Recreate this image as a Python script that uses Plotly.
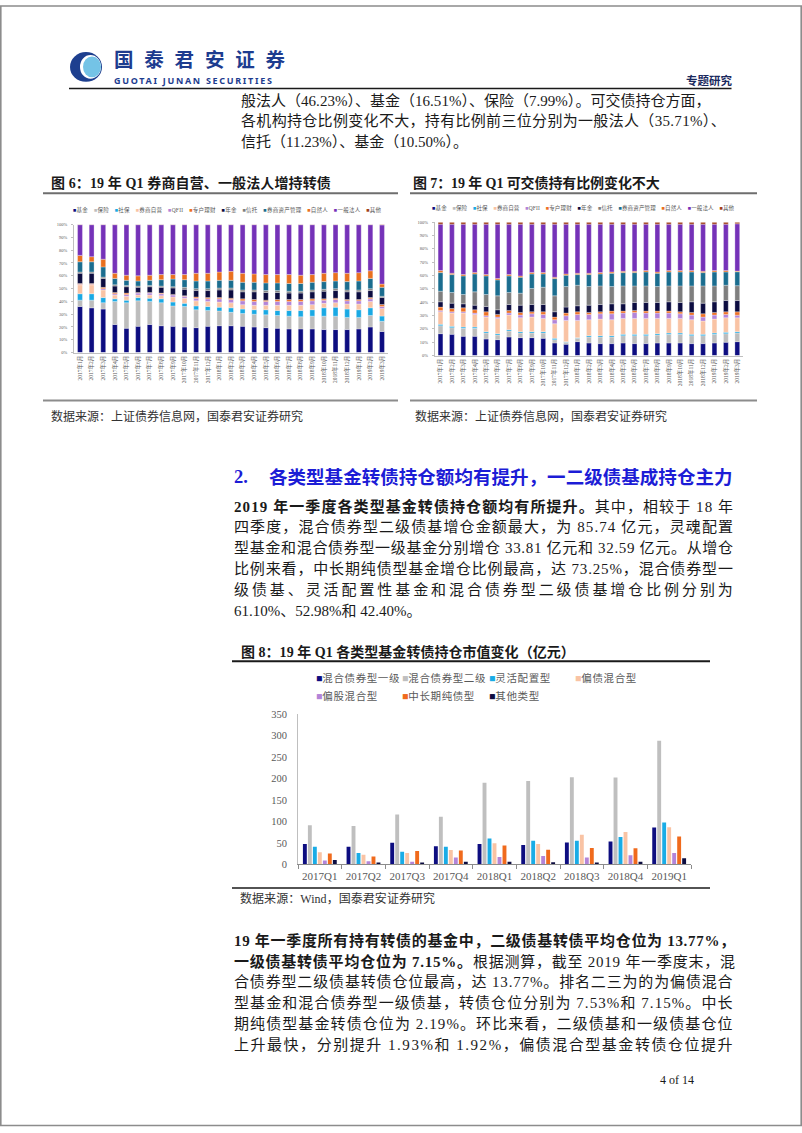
import re
import numpy as np
import plotly.graph_objects as go

W, H = 802, 1133
def px(x): return x / W
def py(y): return 1 - y / H

FONT = "Liberation Serif, Noto Sans CJK SC"
SANS = "Noto Sans CJK SC"
GRAY_TXT = "#595959"

# ---------------- data ----------------
months = ["2017年1月", "2017年2月", "2017年3月", "2017年4月", "2017年5月", "2017年6月",
          "2017年7月", "2017年8月", "2017年9月", "2017年10月", "2017年11月", "2017年12月",
          "2018年1月", "2018年2月", "2018年3月", "2018年4月", "2018年5月", "2018年6月",
          "2018年7月", "2018年8月", "2018年9月", "2018年10月", "2018年11月", "2018年12月",
          "2019年1月", "2019年2月", "2019年3月"]
holder_names = ["基金", "保险", "社保", "券商自营", "QFII", "专户理财", "年金", "信托",
                "券商资产管理", "自然人", "一般法人", "其他"]
holder_colors = ["#0d0d80", "#bdbdbd", "#19a9e4", "#f9c3a4", "#b384d8", "#ee7124",
                 "#0c0c40", "#7f7f7f", "#1b6d8f", "#e9701f", "#7532b8", "#a0401a"]
pct_ticks = [0, 10, 20, 30, 40, 50, 60, 70, 80, 90, 100]

# Figure 6: convertible bond holder shares (%)
cb_fund = [36, 35, 34, 22, 19, 20.5, 22, 21, 20.5, 20, 19.5, 20.5, 21, 21, 20.5, 20, 19.5, 19, 18.5, 18.5, 18.5, 18, 18, 18, 18.5, 20, 16.51]
cb_insur = [5, 6, 5, 18, 20, 20, 18, 18, 16, 16, 14, 12.5, 11.5, 10.5, 10, 10, 10, 10, 10, 9.5, 10, 10.5, 10.5, 9.5, 9, 9, 7.99]
cb_ssf = [5, 5, 4, 2, 2, 2.5, 2.5, 3, 3, 2.5, 3, 3, 3, 3.5, 3.5, 3.5, 4, 4, 4.5, 5, 5, 6.5, 7, 6.5, 6, 6, 4]
cb_broker = [7, 7, 6, 3, 3, 2, 2.5, 2.5, 4, 4, 4, 4, 4, 4, 3.5, 3.5, 3.5, 4, 4, 4, 4, 3.5, 3.5, 4, 4.5, 5, 6]
cb_qfii = [0.5, 0.5, 1, 1, 1.5, 1.5, 1.5, 1.5, 1.5, 1.5, 2, 2, 2.5, 2.5, 3, 3, 3, 3, 3, 3, 3, 2.5, 2.5, 2.5, 2.5, 2, 1.5]
cb_special = [0.5, 0.5, 1, 1, 1, 0.5, 0.5, 0.5, 0.5, 0.5, 1, 1, 1, 1, 1.5, 1.5, 1, 1.5, 1.5, 1.5, 1.5, 1, 1, 1, 1, 1, 1.5]
cb_pension = [8, 8, 7, 5, 5, 4, 4.5, 4.5, 5, 5, 5, 5.5, 6, 6.5, 5.5, 6, 6, 5.5, 5, 5, 5.5, 6, 6, 6, 6, 5.5, 5.5]
cb_trust = [1, 1, 1, 1, 1, 1, 1, 1, 1, 1.5, 1.5, 1.5, 1.5, 1.5, 1.5, 1.5, 1.5, 1.5, 1.5, 1.5, 1.5, 1.5, 1.5, 1.5, 1.5, 1.5, 1]
cb_broker_am = [8, 8, 8, 5, 4, 4, 4, 5, 6, 6, 6, 6, 6, 6, 6, 6, 6, 6, 6, 6, 6, 6, 6, 6.5, 7, 8, 7]
cb_individual = [5, 4, 6, 4, 4, 4, 4, 4, 3.5, 4, 6, 6, 6.5, 7, 7, 6.5, 6.5, 6.5, 7, 6.5, 6, 6.5, 6.5, 6.5, 6.5, 6, 2.5]
cb_corp = [24, 25, 27, 38, 39.5, 40, 39.5, 39, 39, 39, 38, 38, 37, 36.5, 38, 38.5, 39, 39, 39, 39.5, 39, 38, 37.5, 38, 37.5, 36, 46.23]
cb_other = [0.1, 0.1, 0.1, 0.1, 0.1, 0.1, 0.1, 0.1, 0.1, 0.1, 0.1, 0.1, 0.1, 0.1, 0.1, 0.1, 0.1, 0.1, 0.1, 0.1, 0.1, 0.1, 0.1, 0.1, 0.1, 0.1, 0.3]

# Figure 7: exchangeable bond holder shares (%)
eb_fund = [16.5, 16, 14.5, 14.5, 12.5, 12, 14, 13.5, 13.5, 13, 9.5, 8.5, 10.5, 9.5, 9, 9, 9.5, 9, 9, 9.5, 9.5, 9.5, 9, 9, 9.5, 10, 10.5]
eb_insur = [6, 5, 6, 6, 4.5, 3.5, 4.5, 3.5, 3.5, 4, 2.5, 1.5, 2.5, 4.5, 5, 5, 5.5, 6, 6, 6, 6.5, 6.5, 6, 6, 6.5, 6.5, 6.5]
eb_ssf = [1, 1, 1, 1, 1, 1, 1, 1, 1, 1, 1, 0.5, 0.5, 1, 1, 1, 1, 1, 1, 1, 1, 1, 1, 1, 1, 1, 1]
eb_broker = [9.5, 10, 10.5, 9.5, 11, 11.5, 11, 10.5, 11, 10, 11, 16, 13, 12, 12.5, 12, 12, 12, 12, 11.5, 11, 11, 11, 10, 10.5, 11, 10.5]
eb_qfii = [1, 1, 1, 1, 1, 1, 1.5, 2, 2.5, 3, 3, 3.5, 4.5, 4, 4, 4.5, 4, 4.5, 4, 4, 4, 3.5, 3.5, 3, 3, 2.5, 2]
eb_special = [2.5, 2.5, 3, 2.5, 3, 2, 2, 2, 1.5, 2, 2, 2, 2, 1.5, 1.5, 2, 1.5, 1.5, 1.5, 1.5, 1.5, 1.5, 2, 2.5, 2, 2, 2.5]
eb_pension = [4, 4, 3, 3.5, 4, 3.5, 4.5, 5.5, 5.5, 5.5, 4, 4.5, 4.5, 5.5, 5.5, 5.5, 5.5, 6, 6.5, 6.5, 7, 7, 8, 8, 8, 8.5, 8.5]
eb_trust = [8, 8, 7, 10, 9, 10.5, 9, 9, 12, 13, 12, 15.5, 15.5, 14, 14, 13, 13.5, 12.5, 12.5, 12, 12, 12.5, 12, 13, 12, 11.5, 11.23]
eb_broker_am = [14, 13.5, 14, 13.5, 14, 12, 12.5, 12, 11, 10, 13, 8.5, 8, 9, 9, 10, 10, 10, 10.5, 10, 10.5, 10.5, 10.5, 10, 10.5, 10, 10.5]
eb_individual = [1.5, 1, 1, 1, 1, 1, 1, 1, 1, 1, 1, 1, 1, 1, 1, 1, 1, 1, 1, 1, 1, 1, 1, 1, 1, 1, 0.5]
eb_corp = [35, 37, 38, 36.5, 38, 41, 38, 39, 36.5, 36.5, 40, 37.5, 37, 37, 36.5, 36, 35.5, 35.5, 35, 36, 35, 35, 35, 35.5, 35, 35, 35.71]
eb_other = [1.5, 1.5, 1.5, 1.5, 1.5, 1.5, 1.5, 1.5, 1.5, 1.5, 1.5, 1.5, 1.5, 1.5, 1.5, 1.5, 1.5, 1.5, 1.5, 1.5, 1.5, 1.5, 1.5, 1.5, 1.5, 1.5, 1.2]

# Figure 8: fund convertible holdings (亿元)
quarters = ["2017Q1", "2017Q2", "2017Q3", "2017Q4", "2018Q1", "2018Q2", "2018Q3", "2018Q4", "2019Q1"]
fund_names = ["混合债券型一级", "混合债券型二级", "灵活配置型", "偏债混合型", "偏股混合型", "中长期纯债型", "其他类型"]
fund_colors = ["#0d0d80", "#bfbfbf", "#19ace6", "#f9c3a4", "#b384d8", "#f06a1c", "#0c0c40"]
f_bond1 = [47, 41, 50, 42, 47, 45, 51, 53.3, 85.9]
f_bond2 = [91, 89, 116, 111, 190, 194, 203, 202.2, 288]
f_flex = [41, 26, 29, 41, 60, 55, 55, 63.8, 97.6]
f_debt_mix = [28, 22, 26, 33, 49, 47, 69, 75, 86]
f_equity_mix = [9, 7, 6, 16, 17, 19, 16, 21, 26]
f_pure_bond = [25, 18, 31, 32, 44, 34, 38, 37.5, 65]
f_other = [10, 4, 4, 6, 6, 5, 4, 6, 14]
val_ticks = [0, 50, 100, 150, 200, 250, 300, 350]

# ---------------- text ----------------
para1 = ["般法人（46.23%）、基金（16.51%）、保险（7.99%）。可交债持仓方面，",
         "各机构持仓比例变化不大，持有比例前三位分别为一般法人（35.71%）、",
         "信托（11.23%）、基金（10.50%）。"]
heading2 = "各类型基金转债持仓额均有提升，一二级债基成持仓主力"
para2 = ["<b>2019 年一季度各类型基金转债持仓额均有所提升。</b>其中，相较于 18 年",
         "四季度，混合债券型二级债基增仓金额最大，为 85.74 亿元，灵魂配置",
         "型基金和混合债券型一级基金分别增仓 33.81 亿元和 32.59 亿元。从增仓",
         "比例来看，中长期纯债型基金增仓比例最高，达 73.25%，混合债券型一",
         "级债基、灵活配置性基金和混合债券型二级债基增仓比例分别为",
         "61.10%、52.98%和 42.40%。"]
para3 = ["<b>19 年一季度所有持有转债的基金中，二级债基转债平均仓位为 13.77%，</b>",
         "<b>一级债基转债平均仓位为 7.15%。</b>根据测算，截至 2019 年一季度末，混",
         "合债券型二级债基转债仓位最高，达 13.77%。排名二三为的为偏债混合",
         "型基金和混合债券型一级债基，转债仓位分别为 7.53%和 7.15%。中长",
         "期纯债型基金转债仓位为 2.19%。环比来看，二级债基和一级债基仓位",
         "上升最快，分别提升 1.93%和 1.92%，偏债混合型基金转债仓位提升"]

LAT = {'.': .25, '%': .833, ' ': .25, 'Q': .722, 'W': .944, 'i': .278, 'n': .5,
       'd': .5, 'o': .5, 'f': .333, 'F': .556, 'I': .333, '\u25a0': .604}

def em_width(s):
    plain = re.sub(r"<[^>]+>", "", s)
    w = 0.0
    for ch in plain:
        if ch.isdigit() and ord(ch) < 128:
            w += .5
        elif ch in LAT:
            w += LAT[ch]
        elif ord(ch) < 128:
            w += .55
        else:
            w += 1.0
    return w, len(plain)

def fit(s, size, target):
    w, n = em_width(s)
    ls = (target - w * size) / max(n - 1, 1)
    return f"<span style='letter-spacing:{ls:.2f}px'>{s}</span>"

annos = []
def add_text(x, y, text, size, color="#1a1a1a", family=FONT, xanchor="left", bold=False):
    annos.append(dict(x=px(x), y=py(y), xref="paper", yref="paper", text=text,
                      showarrow=False, xanchor=xanchor, yanchor="middle", borderpad=0,
                      font=dict(family=family, size=size, color=color,
                                weight="bold" if bold else "normal")))

fig = go.Figure()

# ---------------- stacked share charts ----------------
def add_stack(series, xa, ya):
    arr = np.array(series, dtype=float)
    pct = arr / arr.sum(axis=0) * 100.0
    base = np.cumsum(pct, axis=0) - pct
    for name, col, vals, b in zip(holder_names, holder_colors, pct, base):
        fig.add_trace(go.Bar(x=months, y=vals, base=b, name=name, width=0.42,
                             marker=dict(color=col, line=dict(color="white", width=0.3)),
                             offsetgroup=xa, xaxis=xa, yaxis=ya, showlegend=False))

add_stack([cb_fund, cb_insur, cb_ssf, cb_broker, cb_qfii, cb_special, cb_pension,
           cb_trust, cb_broker_am, cb_individual, cb_corp, cb_other], "x", "y")
add_stack([eb_fund, eb_insur, eb_ssf, eb_broker, eb_qfii, eb_special, eb_pension,
           eb_trust, eb_broker_am, eb_individual, eb_corp, eb_other], "x2", "y2")

# ---------------- grouped fund chart ----------------
for name, col, vals in zip(fund_names, fund_colors,
                           [f_bond1, f_bond2, f_flex, f_debt_mix, f_equity_mix, f_pure_bond, f_other]):
    fig.add_trace(go.Bar(x=quarters, y=vals, name=name, marker=dict(color=col, line=dict(width=0)),
                         offsetgroup=name, xaxis="x3", yaxis="y3", showlegend=False))

small_x = dict(type="category", tickmode="array", tickvals=months, ticktext=months,
               tickangle=-90, tickfont=dict(family=FONT, size=5.5, color=GRAY_TXT),
               showline=True, linecolor="#bfbfbf", linewidth=1, ticks="", showgrid=False,
               zeroline=False, range=[-0.5, 26.5], fixedrange=True)
small_y = dict(range=[0, 100], tickmode="array", tickvals=pct_ticks,
               ticktext=[f"{v}%" for v in pct_ticks],
               tickfont=dict(family=FONT, size=4.5, color=GRAY_TXT),
               showline=True, linecolor="#bfbfbf", linewidth=1, ticks="outside", ticklen=2,
               tickcolor="#bfbfbf", showgrid=False, zeroline=False, fixedrange=True,
               ticklabelstandoff=3)

fig.update_layout(
    width=W, height=H, margin=dict(l=0, r=0, t=0, b=0), autosize=False,
    paper_bgcolor="white", plot_bgcolor="white", showlegend=False,
    barmode="group", bargap=0.2, bargroupgap=0.22,
    xaxis=dict(domain=[px(74.2), px(387.8)], anchor="y", **small_x),
    yaxis=dict(domain=[py(351), py(221.7)], anchor="x", **small_y),
    xaxis2=dict(domain=[px(434.8), px(743)], anchor="y2", **small_x),
    yaxis2=dict(domain=[py(354), py(219.3)], anchor="x2", **small_y),
    xaxis3=dict(domain=[px(298), px(691)], anchor="y3", type="category", tickangle=0,
                tickfont=dict(family=FONT, size=11, color=GRAY_TXT), showline=True,
                linecolor="#8c8c8c", linewidth=1, ticks="outside", tickson="boundaries",
                ticklen=4, tickcolor="#8c8c8c", showgrid=False, zeroline=False, fixedrange=True,
                ticklabelstandoff=2),
    yaxis3=dict(domain=[py(867.7), py(716)], anchor="x3", range=[0, 350], tickmode="array",
                tickvals=val_ticks, tickfont=dict(family=FONT, size=10.5, color=GRAY_TXT),
                showline=True, linecolor="#bfbfbf", linewidth=1, ticks="", showgrid=False,
                zeroline=False, fixedrange=True, ticklabelstandoff=8),
)

# ---------------- header ----------------
add_text(112.5, 54.5, fit("国泰君安证券", 19.5, 171), 19.5, color="#1d3c8f", family=SANS, bold=True)
add_text(112.5, 76, "<span style='letter-spacing:1.7px'>GUOTAI JUNAN SECURITIES</span>", 9,
         color="#1d3c8f", family="Noto Sans", bold=True)
add_text(685, 76, fit("专题研究", 11.5, 46), 11.5, color="#1b2a5e", bold=True)

# paragraph 1
for i, (line, y) in enumerate(zip(para1, [96.7, 117.3, 138])):
    t = line if i == len(para1) - 1 else fit(line, 15, 731.5 - 239.5)
    add_text(239.5, y, t, 15)

# figure captions
add_text(50, 180, fit("图 6：19 年 Q1 券商自营、一般法人增持转债", 14, 279), 14, bold=True)
add_text(411.7, 180, fit("图 7：19 年 Q1 可交债持有比例变化不大", 14, 246), 14, bold=True)

# small legends
def legend_text(names, colors):
    return "\u3000".join(f"<span style='color:{c}'>\u25a0</span>{n}" for n, c in zip(names, colors))
lg = legend_text(holder_names, holder_colors)
add_text(71.7, 206.7, fit(lg, 5.5, 308), 5.5, color=GRAY_TXT)
add_text(431, 204.5, fit(lg, 5.5, 302), 5.5, color=GRAY_TXT)

# sources
src = "数据来源：上证债券信息网，国泰君安证券研究"
add_text(50.4, 416, fit(src, 12, 252), 12, color="#333333")
add_text(414.4, 416, fit(src, 12, 252), 12, color="#333333")

# section 2 heading
add_text(232.6, 477, "2.", 18.5, color="#1c1cd6", bold=True)
add_text(268, 477, fit(heading2, 18.5, 731.5 - 268), 18.5, color="#1c1cd6", bold=True)

for i, (line, y) in enumerate(zip(para2, [506, 527, 548.7, 570, 591, 611.7])):
    t = line if i == len(para2) - 1 else fit(line, 15, 731.5 - 232.6)
    add_text(232.6, y, t, 15)

# figure 8 caption, legend, source
add_text(240, 653, fit("图 8：19 年 Q1 各类型基金转债持仓市值变化（亿元）", 14, 333), 14, bold=True)
for i, (n, c) in enumerate(zip(fund_names, fund_colors)):
    add_text(315 + (i % 4) * 86.3, 679.3 + (i // 4) * 18,
             f"<span style='color:{c}'>\u25a0</span><span style='letter-spacing:0.6px'>{n}</span>",
             10.5, color=GRAY_TXT)
add_text(238.5, 902, fit("数据来源：Wind，国泰君安证券研究", 12, 195.5), 12, color="#333333")

# paragraph 3
for line, y in zip(para3, [945, 966, 987, 1008, 1029, 1050]):
    add_text(233, y, fit(line, 15, 731.5 - 233), 15)

add_text(659, 1086, "4 of 14", 12, color="#1a1a1a", family="Liberation Serif")

# ---------------- shapes ----------------
def hline(x0, x1, y, color, width):
    return dict(type="line", xref="paper", yref="paper", x0=px(x0), x1=px(x1), y0=py(y), y1=py(y),
                line=dict(color=color, width=width))

shapes = [
    dict(type="rect", xref="paper", yref="paper", x0=px(0.8), x1=px(801.2), y0=py(1131.5), y1=py(1),
         line=dict(color="#8c8c8c", width=1.6), fillcolor="rgba(0,0,0,0)", layer="above"),
    # logo
    dict(type="circle", xref="paper", yref="paper", x0=px(70), x1=px(102), y0=py(77.5), y1=py(47.5),
         fillcolor="#1d3f8f", line=dict(width=0)),
    dict(type="circle", xref="paper", yref="paper", x0=px(80), x1=px(101), y0=py(74.5), y1=py(50.5),
         fillcolor="white", line=dict(width=0)),
    dict(type="circle", xref="paper", yref="paper", x0=px(83), x1=px(101), y0=py(73), y1=py(52),
         fillcolor="#74c3e6", line=dict(width=0)),
    hline(69, 731.5, 84.3, "#1a1a1a", 1.6),
    hline(43, 398, 190, "#6e6e6e", 2),
    hline(410, 757, 190, "#6e6e6e", 2),
    hline(43, 398, 399.3, "#8c8c8c", 2),
    hline(410, 757, 399.3, "#8c8c8c", 2),
    hline(232, 710, 662.7, "#1a1a1a", 2),
    hline(232, 710, 891.7, "#1a1a1a", 1.6),
]
fig.update_layout(annotations=annos, shapes=shapes)

fig.write_html("out.html")
